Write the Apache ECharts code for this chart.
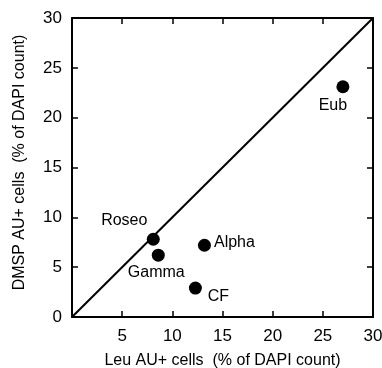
<!DOCTYPE html>
<html>
<head>
<meta charset="utf-8">
<script src="https://cdn.jsdelivr.net/npm/echarts@6/dist/echarts.min.js"></script>
<style>
  html, body { margin: 0; padding: 0; background: #fff; }
  #chart { width: 382px; height: 368px; }
</style>
</head>
<body>
<div id="chart"></div>
<script>
// Bacterial groups: Leu-assimilating vs DMSP-assimilating cells (% of DAPI count)
const groups = ['Roseo', 'Gamma', 'Alpha', 'CF', 'Eub'];
const leuValues = [8.1, 8.6, 13.2, 12.3, 27.0];
const dmspValues = [7.8, 6.2, 7.2, 2.9, 23.1];
// label offsets (px) relative to each marker centre
const labelOffsets = [[-29, -19], [-2, 17], [30, -3], [23, 8], [-10, 19]];
const xTicks = [5, 10, 15, 20, 25, 30];
const yTicks = [0, 5, 10, 15, 20, 25, 30];
const oneToOne = [[0, 0], [30, 30]];

const font = '"Liberation Sans", Arial, Helvetica, sans-serif';
const chart = echarts.init(document.getElementById('chart'), null, { renderer: 'canvas' });

const axisLine = { show: true, onZero: false, lineStyle: { color: '#000', width: 2 } };
const axisTick = { show: true, inside: true, length: 6, lineStyle: { color: '#000', width: 1.5 } };

chart.setOption({
  animation: false,
  backgroundColor: '#fff',
  grid: { left: 72, top: 18, right: 9, bottom: 51, containLabel: false, outerBoundsMode: 'none' },
  xAxis: [
    {
      type: 'value', position: 'bottom', min: 0, max: 30, interval: 5,
      axisLine, axisTick, splitLine: { show: false },
      axisLabel: {
        color: '#000', fontSize: 17, fontFamily: font, margin: 11,
        formatter: v => (xTicks.includes(v) ? String(v) : '')
      },
      name: 'Leu AU+ cells  (% of DAPI count)',
      nameLocation: 'middle', nameGap: 36,
      nameTextStyle: { color: '#000', fontSize: 16, fontFamily: font }
    },
    {
      type: 'value', position: 'top', min: 0, max: 30, interval: 5,
      axisLine, axisTick, axisLabel: { show: false }, splitLine: { show: false }
    }
  ],
  yAxis: [
    {
      type: 'value', position: 'left', min: 0, max: 30, interval: 5,
      axisLine, axisTick, splitLine: { show: false },
      axisLabel: {
        color: '#000', fontSize: 17, fontFamily: font, margin: 10,
        formatter: v => (yTicks.includes(v) ? String(v) : '')
      },
      name: 'DMSP AU+ cells  (% of DAPI count)',
      nameLocation: 'middle', nameGap: 44,
      nameTextStyle: { color: '#000', fontSize: 16, fontFamily: font, padding: [0, 0, 0, 10] }
    },
    {
      type: 'value', position: 'right', min: 0, max: 30, interval: 5,
      axisLine, axisTick, axisLabel: { show: false }, splitLine: { show: false }
    }
  ],
  series: [
    {
      type: 'line',
      data: oneToOne,
      symbol: 'none',
      lineStyle: { color: '#000', width: 2 },
      silent: true
    },
    {
      type: 'scatter',
      symbol: 'circle',
      symbolSize: 13,
      itemStyle: { color: '#000', opacity: 1 },
      data: groups.map((g, i) => ({
        value: [leuValues[i], dmspValues[i]],
        name: g,
        label: { offset: labelOffsets[i] }
      })),
      label: {
        show: true,
        position: 'inside',
        formatter: p => p.name,
        color: '#000',
        fontSize: 16,
        fontFamily: font
      }
    }
  ]
});
</script>
</body>
</html>
